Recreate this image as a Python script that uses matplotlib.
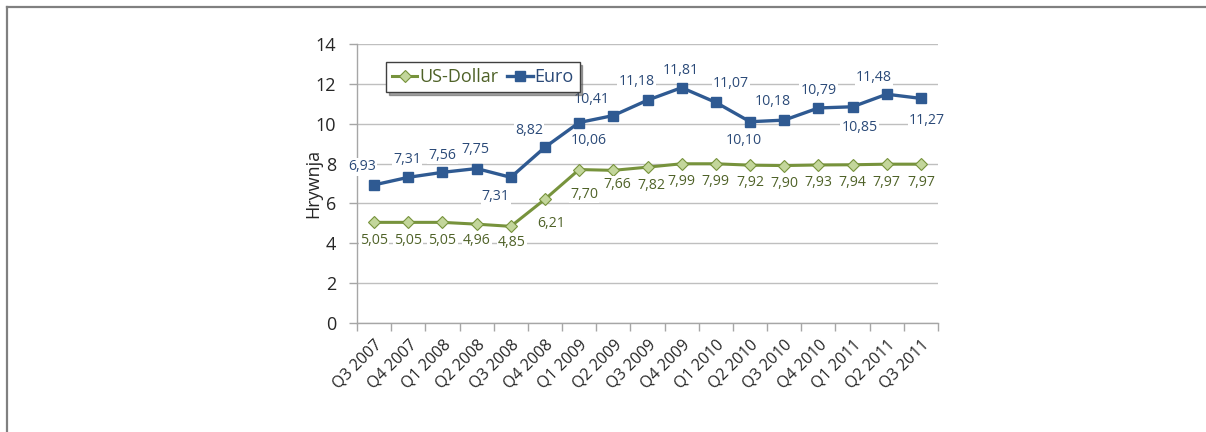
import matplotlib
matplotlib.use("Agg")
import matplotlib.pyplot as plt
from matplotlib.lines import Line2D
import numpy as np

plt.rcParams['font.family'] = ['Open Sans', 'DejaVu Sans']

quarters = ['Q3 2007', 'Q4 2007', 'Q1 2008', 'Q2 2008', 'Q3 2008', 'Q4 2008',
            'Q1 2009', 'Q2 2009', 'Q3 2009', 'Q4 2009', 'Q1 2010', 'Q2 2010',
            'Q3 2010', 'Q4 2010', 'Q1 2011', 'Q2 2011', 'Q3 2011']
euro = [6.93, 7.31, 7.56, 7.75, 7.31, 8.82, 10.06, 10.41, 11.18, 11.81,
        11.07, 10.10, 10.18, 10.79, 10.85, 11.48, 11.27]
usd = [5.05, 5.05, 5.05, 4.96, 4.85, 6.21, 7.70, 7.66, 7.82, 7.99,
       7.99, 7.92, 7.90, 7.93, 7.94, 7.97, 7.97]

# label offsets in pixels (dx, dy), dy positive = down
euro_off = [(-12, -18), (-1, -18), (0, -17), (-1, -19), (-15, 19), (-16, -17),
            (10, 18), (-22, -16), (-11, -19), (-1, -17), (15, -19), (-6, 19),
            (-11, -19), (0, -17), (7, 21), (-13, -17), (6, 22)]
usd_off = [(0, 18), (0, 18), (0, 18), (0, 16), (1, 16), (6, 24), (5, 25),
           (4, 14), (4, 18), (0, 18), (0, 18), (0, 17), (0, 18), (0, 18),
           (0, 18), (0, 18), (0, 18)]

euro_line = '#2F5A92'
euro_text = '#2B4A78'
usd_line = '#77933C'
usd_fill = '#C3D69B'
usd_text = '#4F6228'

fig = plt.figure(figsize=(12.06, 4.32), dpi=100)
W, H = 1206, 432
ax = fig.add_axes([357 / W, 1 - 323 / H, (938 - 357) / W, (323 - 44) / H])

x = np.arange(len(quarters))
ax.plot(x, usd, color=usd_line, lw=2.2, marker='D', ms=6, mfc=usd_fill,
        mec=usd_line, mew=0.8, label='US-Dollar', zorder=3)
ax.plot(x, euro, color=euro_line, lw=2.4, marker='s', ms=7.5,
        label='Euro', zorder=3)

for i in range(len(x)):
    dx, dy = euro_off[i]
    ax.annotate(f'{euro[i]:.2f}'.replace('.', ','), (x[i], euro[i]),
                xytext=(dx, -dy), textcoords='offset pixels', ha='center',
                va='center', fontsize=10.2, color=euro_text, zorder=4,
                bbox=dict(boxstyle='square,pad=0.08', fc='white', ec='none'))
    dx, dy = usd_off[i]
    ax.annotate(f'{usd[i]:.2f}'.replace('.', ','), (x[i], usd[i]),
                xytext=(dx, -dy), textcoords='offset pixels', ha='center',
                va='center', fontsize=10.2, color=usd_text, zorder=4,
                bbox=dict(boxstyle='square,pad=0.08', fc='white', ec='none'))

ax.set_xlim(-0.5, len(quarters) - 0.5)
ax.set_ylim(0, 14)
ax.set_yticks(range(0, 15, 2))
ax.set_xticks(x)
ax.set_xticklabels(quarters, rotation=45, ha='right', rotation_mode='anchor',
                   fontsize=11.5, color='#262626')
ax.set_xticks(np.arange(-0.5, len(quarters)), minor=True)
ax.tick_params(axis='x', which='major', length=0, pad=10)
ax.tick_params(axis='x', which='minor', length=6, color='#A6A6A6', width=1)
ax.tick_params(axis='y', length=6, color='#A6A6A6', width=1, pad=9,
               labelsize=13, labelcolor='#262626')
ax.grid(axis='y', color='#BFBFBF', lw=1)
ax.set_axisbelow(True)
for s in ['top', 'right']:
    ax.spines[s].set_visible(False)
for s in ['left', 'bottom']:
    ax.spines[s].set_color('#A6A6A6')
    ax.spines[s].set_linewidth(1)

ax.set_ylabel('Hrywnja', fontsize=13, color='#262626', va='center')
ax.yaxis.set_label_coords((313 - 357) / 581, 0.5)

leg = ax.legend(loc='upper left', bbox_to_anchor=(0.05, 0.935), borderaxespad=0,
                ncol=2, fontsize=13, frameon=True, fancybox=False, shadow=True,
                handlelength=1.4, handletextpad=0.1, columnspacing=0.5,
                borderpad=0.33)
leg.get_frame().set_edgecolor('#404040')
leg.get_frame().set_linewidth(1)
for t, c in zip(leg.get_texts(), [usd_text, euro_text]):
    t.set_color(c)

# outer border (top and left)
fig.add_artist(Line2D([7 / W, 1], [1 - 7 / H, 1 - 7 / H], color='#808080', lw=1.6))
fig.add_artist(Line2D([7 / W, 7 / W], [0, 1 - 7 / H], color='#808080', lw=1.6))

fig.savefig('out.png', dpi=100)
